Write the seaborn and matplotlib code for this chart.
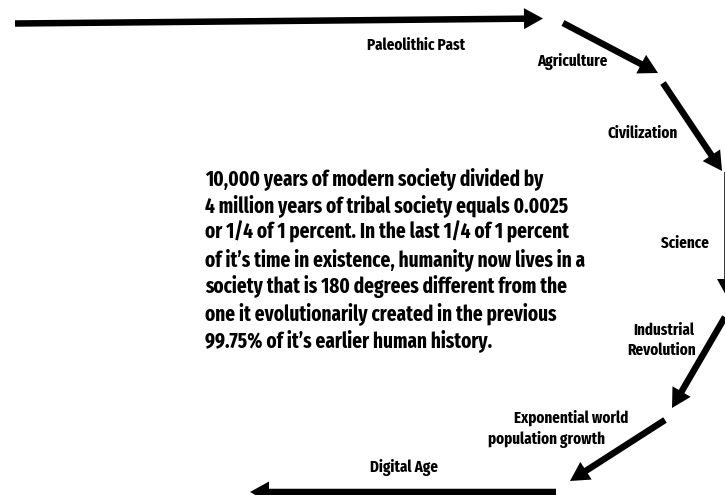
import matplotlib
matplotlib.use("Agg")
from matplotlib import pyplot as plt
import seaborn as sns

sns.set_theme(style="white")
plt.rcParams["font.family"] = ["Fira Sans Extra Condensed", "DejaVu Sans"]

# stage labels along the cycle
stages = ["Paleolithic Past", "Agriculture", "Civilization", "Science",
          "Industrial", "Revolution", "Exponential world", "population growth", "Digital Age"]
stage_x = [416, 572, 643, 685, 664, 662, 571, 547, 404]
stage_y = [45, 62, 133, 243, 330, 350, 418, 440, 468]

# arrows: start and tip (pixel space of the picture)
arrow_x0 = [15, 563, 663, 727.5, 725, 665, 556]
arrow_y0 = [23.5, 23, 83, 172, 317, 420, 492]
arrow_x1 = [543, 658, 722, 727.5, 672, 570, 250]
arrow_y1 = [18.5, 73, 171, 298, 408, 481, 492]

paragraph = ["10,000 years of modern society divided by",
             "4 million years of tribal society equals 0.0025",
             "or 1/4 of 1 percent. In the last 1/4 of 1 percent",
             "of it\u2019s time in existence, humanity now lives in a",
             "society that is 180 degrees different from the",
             "one it evolutionarily created in the previous",
             "99.75% of it\u2019s earlier human history."]

fig = plt.figure(figsize=(7.25, 4.95), dpi=100)
ax = fig.add_axes([0, 0, 1, 1])
ax.set_xlim(0, 725)
ax.set_ylim(495, 0)
ax.axis("off")

for x0, y0, x1, y1 in zip(arrow_x0, arrow_y0, arrow_x1, arrow_y1):
    ax.arrow(x0, y0, x1 - x0, y1 - y0, width=6.5, head_width=21, head_length=19,
             length_includes_head=True, color="black", lw=0)

for label, x, y in zip(stages, stage_x, stage_y):
    ax.text(x, y, label, ha="center", va="center", fontsize=11.8,
            fontweight="bold", color="black")

# paragraph, one baseline per line
for i, line in enumerate(paragraph):
    ax.text(205, 185 + 27 * i, line, ha="left", va="baseline", fontsize=15,
            fontweight="bold", color="black")

fig.savefig("out.png", dpi=100)
